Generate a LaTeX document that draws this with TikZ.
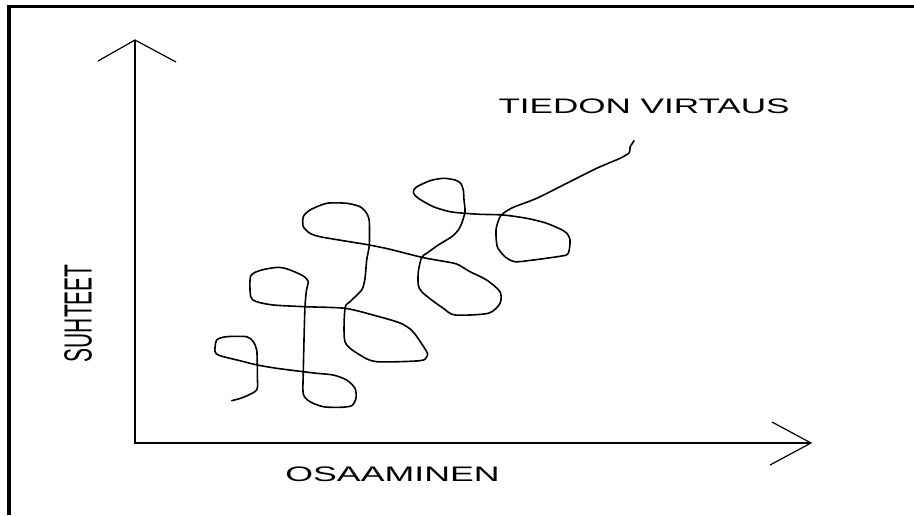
\documentclass[tikz,border=0pt]{standalone}
\usepackage{fontspec}
\setmainfont{Liberation Sans}
\usepackage{tikz}

\begin{document}
\begin{tikzpicture}[x = 1pt, y = -1pt, line width = 1.2pt,
    lbl/.style = {font = \fontsize{21}{21}\selectfont, inner sep = 0pt, anchor = base},
    flow/.style = {line width = 1.6pt, line join = round, line cap = round}]
\useasboundingbox (0,0) rectangle (914,515);
% frame
\draw [line width = 3.3pt] (9,515) -- (9,6.7) -- (914,6.7);
% axes with open heads
\draw (135,443) coordinate(o)
    (135,40) coordinate(ytip)
    (811,443) coordinate(xtip)
    (98,61) coordinate(yl) (176,62) coordinate(yr)
    (772,422) coordinate(xu) (770,465) coordinate(xd);
    \draw [-] (ytip) -- (o) -- (xtip);
    \draw [-] (yl) -- (ytip) -- (yr);
    \draw [-] (xu) -- (xtip) -- (xd);
% labels
\draw (644,113.3) node[lbl, xscale = 1.67](virtaus){TIEDON VIRTAUS}
    (392.5,481.7) node[lbl, xscale = 1.7](osaaminen){OSAAMINEN}
    (91.7,313.3) node[lbl, xscale = 1.87, rotate = 90](suhteet){SUHTEET};
% the looping flow line
\draw [flow] plot[smooth, tension = 0.45] coordinates {
    (231.7,400.7) (243.3,397.3) (256.7,390) (257.3,376.7) (257.3,365)
    (256.7,350) (253.3,341.7) (246.7,336.7) (226.7,336.7) (216.7,340)
    (215,351.7) (220,355.7) (240,360.7) (257.3,365) (276.7,368.3)
    (303.3,371.7) (316.7,373.3) (333.3,375) (346.7,380) (355,388.3)
    (356,398.3) (351.7,405.7) (340,407.3) (323.3,406.7) (310,401.7)
    (303.3,394) (303.3,371.7) (304,340) (305,306.7) (306.5,290)
    (308.3,281.7) (305,277.3) (301.7,275) (288.3,269.3) (278.3,267.3)
    (261.7,270) (250.7,276) (250.7,296.7) (256.7,301.7) (273.3,305)
    (305,306.7) (345,308.3) (373,315) (400,323) (413,331.7)
    (426.7,351.7) (426.7,356.7) (420,360.7) (376.7,361.7) (360,355)
    (345,341.7) (345,308.3) (350,301.7) (361.7,290) (365,278.3)
    (366.7,260) (369.3,245) (369.3,221.7) (366.7,213.3) (360,206.7)
    (346.7,203.3) (326.7,203.3) (310,210) (303.3,216.7) (303.3,226.7)
    (310,233.3) (320,236.7) (343.3,240.7) (369.3,245) (390,249.3)
    (421.7,257.3) (440,260.7) (456.7,264) (470,271.7) (486.7,280)
    (500,291.7) (500,303.3) (488.3,313.3) (455,315) (443.3,308.3)
    (431.7,300) (421.7,291.7) (418.3,285) (418.3,271.7) (421.7,257.3)
    (426.7,253.3) (438.3,245) (451.7,236.7) (458.3,230) (461.7,223.3)
    (465,211.7) (464,200) (463.3,190) (460.7,183.3) (455,180)
    (443.3,178.3) (430,180.7) (416,187.3) (413.3,192.7) (418.3,198.3)
    (433.3,206.7) (450,211.7) (465,213.3) (480,214.3) (503.3,215)
    (526.7,218.3) (546.7,223.3) (565,231.7) (570,240) (568.3,253.3)
    (561.7,256) (533.3,260) (515,261.7) (505,256.7) (497.3,246.7)
    (496,230) (499.3,218.3) (503.3,213.3) (513.3,207.3) (536.7,198.3)
    (566.7,183.3) (596.7,168.3) (620,158.3) (629.3,152.7) (630,147.3)
    (634,140.7)};
\end{tikzpicture}
\end{document}
